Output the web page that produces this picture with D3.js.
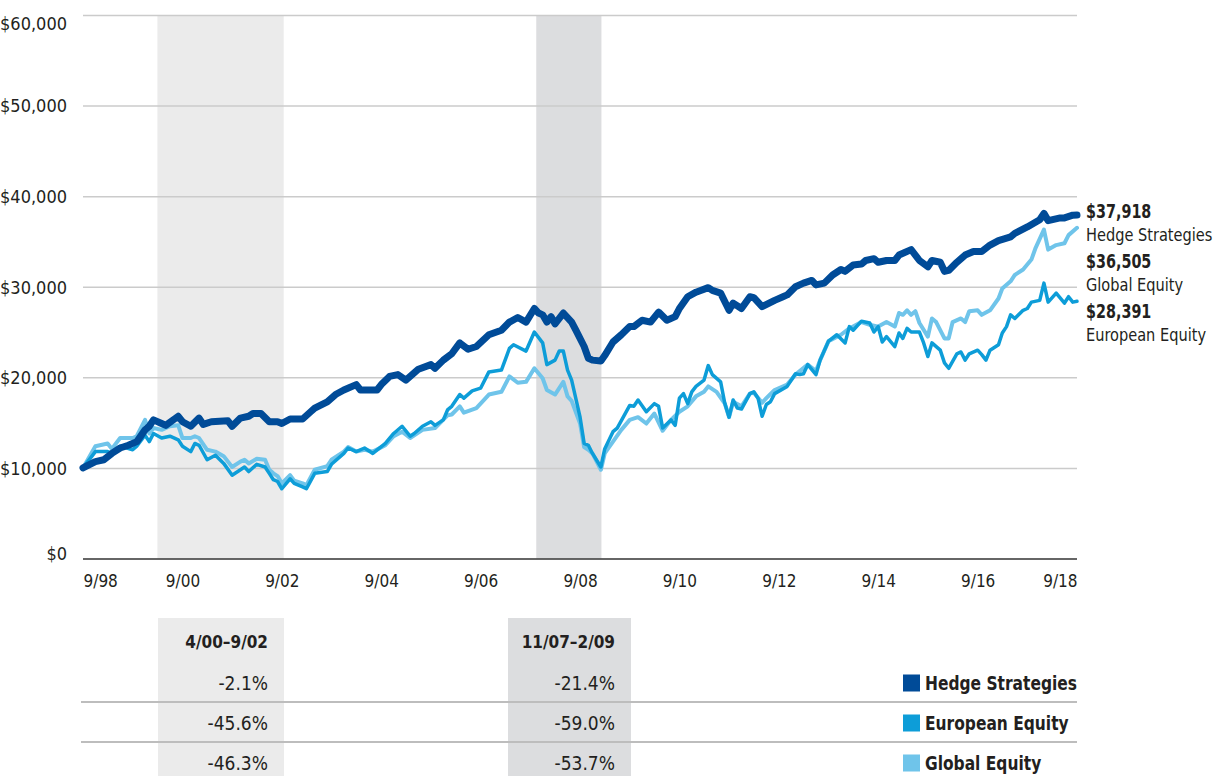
<!DOCTYPE html>
<html>
<head>
<meta charset="utf-8">
<script src="https://cdn.jsdelivr.net/npm/d3@7"></script>
<style>
  body { margin: 0; background: #fff; }
  svg text {
    font-family: "Liberation Sans Narrow", "DejaVu Sans Condensed", "Roboto Condensed", "Arial Narrow", sans-serif;
    font-stretch: condensed;
    fill: #231f20;
  }
</style>
</head>
<body>
<svg id="chart" width="1216" height="776"></svg>
<script>
// growth of $10,000, month / value
const hedgeData = [
  ["1998-09", 10000], ["1998-12", 10700], ["1999-02", 10900], ["1999-04", 11600], ["1999-06", 12200],
  ["1999-08", 12500], ["1999-10", 12900], ["1999-12", 14200], ["2000-01", 14600], ["2000-02", 15300],
  ["2000-04", 14900], ["2000-05", 14700], ["2000-08", 15700], ["2000-09", 15100], ["2000-11", 14600],
  ["2001-01", 15500], ["2001-02", 14800], ["2001-04", 15100], ["2001-08", 15200], ["2001-09", 14600],
  ["2001-11", 15500], ["2002-01", 15700], ["2002-02", 16000], ["2002-04", 16000], ["2002-06", 15100],
  ["2002-08", 15100], ["2002-09", 14900], ["2002-11", 15400], ["2003-02", 15400], ["2003-04", 16200],
  ["2003-05", 16600], ["2003-08", 17300], ["2003-10", 18100], ["2003-12", 18600], ["2004-03", 19200],
  ["2004-04", 18600], ["2004-06", 18600], ["2004-08", 18600], ["2004-09", 19200], ["2004-11", 20100],
  ["2005-01", 20300], ["2005-03", 19700], ["2005-06", 20900], ["2005-09", 21400], ["2005-10", 21000],
  ["2005-12", 21900], ["2006-02", 22600], ["2006-04", 23800], ["2006-06", 23100], ["2006-08", 23400],
  ["2006-11", 24700], ["2007-02", 25200], ["2007-04", 26100], ["2007-06", 26600], ["2007-08", 26100],
  ["2007-10", 27600], ["2007-11", 27100], ["2007-12", 26900], ["2008-01", 26100], ["2008-02", 26700],
  ["2008-03", 25900], ["2008-05", 27100], ["2008-07", 26100], ["2008-08", 25200], ["2008-10", 23400],
  ["2008-11", 22100], ["2008-12", 21900], ["2009-02", 21800], ["2009-03", 22400], ["2009-05", 23900],
  ["2009-07", 24700], ["2009-09", 25600], ["2009-10", 25600], ["2009-12", 26300], ["2010-02", 26100],
  ["2010-04", 27200], ["2010-06", 26300], ["2010-08", 26700], ["2010-09", 27600], ["2010-11", 28900],
  ["2011-01", 29400], ["2011-04", 29900], ["2011-05", 29600], ["2011-07", 29300], ["2011-09", 27400],
  ["2011-10", 28200], ["2011-12", 27600], ["2012-02", 28900], ["2012-03", 28800], ["2012-05", 27800],
  ["2012-08", 28500], ["2012-10", 28900], ["2012-11", 29100], ["2013-01", 30000], ["2013-03", 30400],
  ["2013-05", 30700], ["2013-06", 30200], ["2013-08", 30400], ["2013-10", 31300], ["2013-12", 31900],
  ["2014-01", 31700], ["2014-03", 32400], ["2014-05", 32500], ["2014-06", 32900], ["2014-08", 33100],
  ["2014-09", 32700], ["2014-11", 32900], ["2015-01", 32900], ["2015-02", 33500], ["2015-05", 34100],
  ["2015-06", 33500], ["2015-07", 32900], ["2015-09", 32200], ["2015-10", 32900], ["2015-12", 32700],
  ["2016-01", 31700], ["2016-02", 31800], ["2016-04", 32700], ["2016-06", 33500], ["2016-08", 33900],
  ["2016-10", 33900], ["2016-12", 34600], ["2017-02", 35100], ["2017-05", 35500], ["2017-06", 35900],
  ["2017-09", 36600], ["2017-12", 37400], ["2018-01", 38100], ["2018-02", 37300], ["2018-05", 37600],
  ["2018-06", 37600], ["2018-08", 37900], ["2018-09", 37918]
];

const europeData = [
  ["1998-09", 10000], ["1998-12", 11800], ["1999-03", 11800], ["1999-04", 11600], ["1999-06", 12400],
  ["1999-09", 12000], ["1999-10", 12400], ["1999-12", 13600], ["2000-01", 12900], ["2000-02", 13800],
  ["2000-04", 13300], ["2000-06", 13500], ["2000-08", 13100], ["2000-09", 12400], ["2000-11", 11800],
  ["2000-12", 12700], ["2001-01", 12500], ["2001-03", 10900], ["2001-05", 11400], ["2001-07", 10500],
  ["2001-09", 9200], ["2001-11", 9800], ["2001-12", 10100], ["2002-01", 9600], ["2002-03", 10400],
  ["2002-05", 10100], ["2002-06", 9400], ["2002-07", 8700], ["2002-08", 8500], ["2002-09", 7700],
  ["2002-11", 8800], ["2002-12", 8300], ["2003-02", 7900], ["2003-03", 7700], ["2003-05", 9400],
  ["2003-08", 9600], ["2003-09", 10400], ["2003-12", 11600], ["2004-01", 12200], ["2004-03", 11800],
  ["2004-05", 12200], ["2004-07", 11600], ["2004-10", 12700], ["2004-12", 13800], ["2005-02", 14600],
  ["2005-04", 13500], ["2005-05", 13800], ["2005-07", 14600], ["2005-09", 15100], ["2005-10", 14700],
  ["2005-12", 15300], ["2006-01", 16400], ["2006-02", 16800], ["2006-04", 18100], ["2006-05", 17700],
  ["2006-07", 18500], ["2006-09", 18800], ["2006-11", 20600], ["2007-02", 20800], ["2007-04", 23200],
  ["2007-05", 23600], ["2007-08", 22900], ["2007-10", 25000], ["2007-12", 23800], ["2008-01", 21400],
  ["2008-03", 21900], ["2008-04", 22900], ["2008-05", 22900], ["2008-06", 20800], ["2008-07", 19700],
  ["2008-09", 15600], ["2008-10", 12700], ["2008-11", 12500], ["2008-12", 11600], ["2009-02", 10100],
  ["2009-03", 12100], ["2009-05", 14000], ["2009-06", 14400], ["2009-09", 16900], ["2009-10", 16800],
  ["2009-11", 17500], ["2010-01", 16200], ["2010-03", 17100], ["2010-04", 16800], ["2010-05", 14400],
  ["2010-07", 15300], ["2010-08", 14700], ["2010-09", 17700], ["2010-10", 18200], ["2010-11", 17100],
  ["2010-12", 18400], ["2011-01", 19000], ["2011-03", 19700], ["2011-04", 21300], ["2011-05", 20300],
  ["2011-07", 19500], ["2011-08", 17100], ["2011-09", 15600], ["2011-10", 17500], ["2011-11", 16600],
  ["2011-12", 16500], ["2012-02", 18200], ["2012-03", 18400], ["2012-04", 17700], ["2012-05", 15700],
  ["2012-06", 17000], ["2012-07", 17300], ["2012-08", 18200], ["2012-11", 19000], ["2013-01", 20400],
  ["2013-02", 20300], ["2013-03", 20400], ["2013-04", 21400], ["2013-06", 20300], ["2013-07", 21900],
  ["2013-09", 24000], ["2013-11", 24700], ["2014-01", 23800], ["2014-02", 25600], ["2014-03", 25200],
  ["2014-05", 26200], ["2014-07", 26000], ["2014-08", 25000], ["2014-09", 25600], ["2014-10", 23900],
  ["2014-11", 24500], ["2015-01", 23400], ["2015-02", 24900], ["2015-03", 24300], ["2015-04", 25400],
  ["2015-05", 25000], ["2015-07", 25000], ["2015-08", 23800], ["2015-09", 22300], ["2015-10", 23800],
  ["2015-12", 23000], ["2016-01", 21600], ["2016-02", 21000], ["2016-04", 22600], ["2016-05", 22800],
  ["2016-06", 21900], ["2016-07", 22600], ["2016-09", 23000], ["2016-10", 22500], ["2016-11", 21900],
  ["2016-12", 23000], ["2017-02", 23600], ["2017-03", 24900], ["2017-04", 25600], ["2017-05", 26900],
  ["2017-06", 26500], ["2017-08", 27400], ["2017-09", 27600], ["2017-10", 28300], ["2017-12", 28500],
  ["2018-01", 30400], ["2018-02", 28300], ["2018-04", 29300], ["2018-06", 28200], ["2018-07", 28900],
  ["2018-08", 28300], ["2018-09", 28391]
];

const globalData = [
  ["1998-09", 10000], ["1998-12", 12400], ["1999-03", 12700], ["1999-04", 12100], ["1999-06", 13300],
  ["1999-09", 13300], ["1999-10", 13500], ["1999-12", 15300], ["2000-01", 13800], ["2000-02", 14400],
  ["2000-04", 14200], ["2000-06", 14600], ["2000-08", 14700], ["2000-09", 13300], ["2000-11", 13300],
  ["2000-12", 13500], ["2001-01", 13300], ["2001-03", 12000], ["2001-05", 11800], ["2001-07", 11300],
  ["2001-09", 10100], ["2001-11", 10700], ["2001-12", 10900], ["2002-01", 10500], ["2002-03", 11000],
  ["2002-05", 10900], ["2002-06", 9800], ["2002-07", 9400], ["2002-08", 9100], ["2002-09", 8300],
  ["2002-11", 9200], ["2002-12", 8600], ["2003-02", 8300], ["2003-03", 8100], ["2003-05", 9800],
  ["2003-08", 10200], ["2003-09", 10900], ["2003-12", 11800], ["2004-01", 12300], ["2004-03", 11800],
  ["2004-05", 12000], ["2004-07", 11800], ["2004-10", 12500], ["2004-12", 13500], ["2005-02", 14000],
  ["2005-04", 13300], ["2005-07", 14200], ["2005-10", 14400], ["2006-01", 15800], ["2006-02", 15900],
  ["2006-04", 16800], ["2006-05", 16100], ["2006-08", 16600], ["2006-11", 18100], ["2007-02", 18400],
  ["2007-04", 20100], ["2007-06", 19400], ["2007-08", 19500], ["2007-10", 21000], ["2007-12", 19900],
  ["2008-01", 18600], ["2008-03", 18100], ["2008-05", 19500], ["2008-06", 17900], ["2008-07", 17400],
  ["2008-09", 14900], ["2008-10", 12300], ["2008-11", 12000], ["2008-12", 11600], ["2009-02", 9800],
  ["2009-03", 11600], ["2009-05", 12900], ["2009-07", 14200], ["2009-09", 15300], ["2009-11", 15600],
  ["2010-01", 14900], ["2010-03", 16000], ["2010-05", 14100], ["2010-07", 15300], ["2010-09", 16200],
  ["2010-11", 16800], ["2011-01", 17900], ["2011-03", 18400], ["2011-04", 19000], ["2011-06", 18400],
  ["2011-08", 17100], ["2011-09", 15600], ["2011-10", 17300], ["2011-12", 16800], ["2012-02", 18200],
  ["2012-03", 18300], ["2012-05", 17200], ["2012-06", 17700], ["2012-08", 18600], ["2012-11", 19200],
  ["2013-01", 20300], ["2013-04", 21400], ["2013-06", 20700], ["2013-07", 21900], ["2013-09", 24000],
  ["2013-12", 24700], ["2014-02", 25400], ["2014-05", 26100], ["2014-07", 25800], ["2014-09", 25600],
  ["2014-11", 26100], ["2015-01", 25600], ["2015-02", 27100], ["2015-03", 26900], ["2015-04", 27400],
  ["2015-05", 26900], ["2015-06", 27300], ["2015-07", 26000], ["2015-09", 24500], ["2015-10", 26500],
  ["2015-11", 26100], ["2016-01", 24300], ["2016-02", 24300], ["2016-03", 26100], ["2016-05", 26500],
  ["2016-06", 26100], ["2016-07", 27300], ["2016-09", 27400], ["2016-10", 26900], ["2016-12", 27400],
  ["2017-02", 28700], ["2017-03", 29800], ["2017-05", 30600], ["2017-06", 31300], ["2017-08", 31900],
  ["2017-10", 33000], ["2017-11", 34300], ["2018-01", 36300], ["2018-02", 34100], ["2018-04", 34600],
  ["2018-06", 34800], ["2018-07", 35700], ["2018-09", 36505]
];

const seriesNames = ["Hedge Strategies", "European Equity", "Global Equity"];
const seriesColors = ["#004b98", "#0d9dd8", "#6fc4ea"];
const seriesWidths = [7, 3.5, 4];

// drawdown periods and returns (rows follow seriesNames)
const periodLabels = ["4/00\u20139/02", "11/07\u20132/09"];
const periodStarts = ["2000-03-01", "2007-10-15"];
const periodEnds = ["2002-09-15", "2009-02-05"];
const periodReturns = [
  [-2.1, -21.4],
  [-45.6, -59.0],
  [-46.3, -53.7]
];

const yTicks = [0, 10000, 20000, 30000, 40000, 50000, 60000];
const xTicks = ["1998-09", "2000-09", "2002-09", "2004-09", "2006-09", "2008-09",
                "2010-09", "2012-09", "2014-09", "2016-09", "2018-09"];

// ---- layout
const plotLeft = 83, plotRight = 1077, plotTop = 15, plotBottom = 558.5;
const shadeColors = ["#ebebeb", "#dcdddf"];
const tableCols = [[158, 284], [508, 631]];
const tableTop = 618;

const parseMonth = d3.timeParse("%Y-%m");
const parseDay = d3.timeParse("%Y-%m-%d");
const money = d => "$" + d3.format(",")(d);
const pct = d => d.toFixed(1) + "%";   // plain hyphen like the original

const svg = d3.select("#chart");

const x = d3.scaleTime()
  .domain([parseMonth("1998-09"), parseMonth("2018-09")])
  .range([plotLeft, plotRight]);

const y = d3.scaleLinear()
  .domain([0, 60000])
  .range([plotBottom, plotTop]);

// shaded bear markets
svg.append("g").selectAll("rect")
  .data(periodLabels)
  .join("rect")
    .attr("x", (d, i) => x(parseDay(periodStarts[i])))
    .attr("y", plotTop)
    .attr("width", (d, i) => x(parseDay(periodEnds[i])) - x(parseDay(periodStarts[i])))
    .attr("height", plotBottom - plotTop)
    .attr("fill", (d, i) => shadeColors[i]);

// y axis + grid
const yAxis = svg.append("g")
  .attr("transform", `translate(${plotLeft},0)`)
  .call(d3.axisLeft(y)
    .tickValues(yTicks)
    .tickSize(-(plotRight - plotLeft))
    .tickPadding(16)
    .tickFormat(money));
yAxis.select(".domain").remove();
yAxis.selectAll(".tick line")
  .attr("stroke", d => d === 0 ? "#333" : "#cbcbcb")
  .attr("stroke-width", d => d === 0 ? 1.6 : 1.5);
yAxis.selectAll(".tick text")
  .style("font-size", "18px")
  .attr("dy", d => d === 60000 ? "0.8em" : d === 0 ? "0.05em" : "0.35em");

// x axis
const xAxis = svg.append("g")
  .attr("transform", `translate(0,${plotBottom})`)
  .call(d3.axisBottom(x)
    .tickValues(xTicks.map(parseMonth))
    .tickSize(0)
    .tickPadding(16)
    .tickFormat(d3.timeFormat("%-m/%y")));
xAxis.select(".domain").remove();
xAxis.selectAll(".tick text")
  .style("font-size", "17px")
  .attr("text-anchor", (d, i, n) => i === 0 ? "start" : i === n.length - 1 ? "end" : "middle");

// lines, hedge on top
const allData = [hedgeData, europeData, globalData].map(arr =>
  arr.map(([m, v]) => ({ date: parseMonth(m), value: v })));

const line = d3.line()
  .x(d => x(d.date))
  .y(d => y(d.value));

svg.append("g").selectAll("path")
  .data([2, 1, 0])
  .join("path")
    .attr("d", i => line(allData[i]))
    .attr("fill", "none")
    .attr("stroke", i => seriesColors[i])
    .attr("stroke-width", i => seriesWidths[i])
    .attr("stroke-linejoin", "round")
    .attr("stroke-linecap", "round");

// end labels, stacked by ending value
const lastValue = i => allData[i][allData[i].length - 1].value;
const endOrder = [0, 1, 2].sort((a, b) => lastValue(b) - lastValue(a));
const labelTop = y(lastValue(endOrder[0])) - 4;

const endLabels = svg.append("g").selectAll("g")
  .data(endOrder)
  .join("g")
    .attr("transform", (d, k) => `translate(1086,${labelTop + k * 50})`);
endLabels.append("text")
  .attr("dy", "0.36em")
  .attr("transform", "scale(0.84,1)")
  .style("font-size", "19px")
  .style("font-weight", "bold")
  .text(i => money(lastValue(i)));
endLabels.append("text")
  .attr("y", 24)
  .attr("dy", "0.36em")
  .attr("transform", "scale(0.9,1)")
  .style("font-size", "18px")
  .text(i => seriesNames[i]);

// ---- table below
const table = svg.append("g");
table.selectAll("rect")
  .data(tableCols)
  .join("rect")
    .attr("x", d => d[0])
    .attr("y", tableTop)
    .attr("width", d => d[1] - d[0])
    .attr("height", 776 - tableTop)
    .attr("fill", (d, i) => shadeColors[i]);

table.selectAll("line")
  .data([702, 742])
  .join("line")
    .attr("x1", 81)
    .attr("x2", plotRight)
    .attr("y1", d => d)
    .attr("y2", d => d)
    .attr("stroke", "#bdbdbd")
    .attr("stroke-width", 1.8);

table.selectAll(".head")
  .data(periodLabels)
  .join("text")
    .attr("class", "head")
    .attr("x", (d, i) => tableCols[i][1] - 16)
    .attr("y", 642)
    .attr("dy", "0.36em")
    .attr("text-anchor", "end")
    .style("font-size", "17px")
    .style("font-weight", "bold")
    .text(d => d);

const rowY = [683, 723, 763];
periodReturns.forEach((row, r) => {
  table.selectAll(".r" + r)
    .data(row)
    .join("text")
      .attr("class", "r" + r)
      .attr("x", (d, i) => tableCols[i][1] - 16)
      .attr("y", rowY[r])
      .attr("dy", "0.36em")
      .attr("text-anchor", "end")
      .style("font-size", "19px")
      .text(pct);
});

// legend
const legend = table.selectAll(".legend")
  .data(seriesNames)
  .join("g")
    .attr("class", "legend")
    .attr("transform", (d, i) => `translate(903,${rowY[i]})`);
legend.append("rect")
  .attr("y", -8.5)
  .attr("width", 17)
  .attr("height", 17)
  .attr("fill", (d, i) => seriesColors[i]);
legend.append("g")
  .attr("transform", "translate(22,0) scale(0.86,1)")
  .append("text")
    .attr("dy", "0.36em")
    .style("font-size", "20px")
    .style("font-weight", "bold")
    .text(d => d);
</script>
</body>
</html>
